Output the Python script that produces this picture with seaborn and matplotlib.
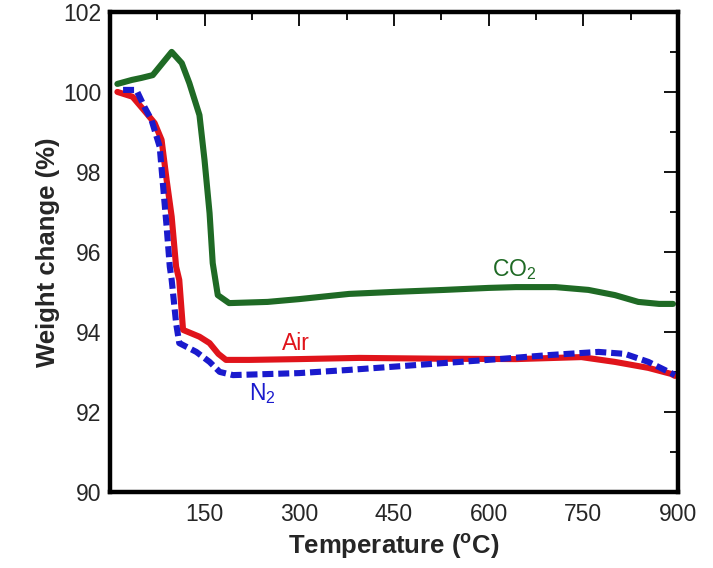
import matplotlib
matplotlib.use("Agg")
import matplotlib.pyplot as plt
import seaborn as sns
import pandas as pd
from matplotlib.ticker import MultipleLocator

co2_t = [12, 35, 50, 68, 98, 114, 126, 142, 150, 158, 163, 171, 189, 250, 300, 379, 450, 530, 600, 643, 706, 758, 800, 837, 870, 892]
co2_w = [100.2, 100.3, 100.35, 100.42, 101.0, 100.72, 100.22, 99.42, 98.3, 96.97, 95.72, 94.92, 94.72, 94.75, 94.82, 94.95, 95.0, 95.05, 95.1, 95.12, 95.12, 95.05, 94.92, 94.75, 94.7, 94.7]

air_t = [12, 36, 58, 71, 82, 90, 98, 105, 110, 116, 142, 158, 172, 184, 221, 300, 395, 520, 643, 747, 800, 853, 889, 895]
air_w = [100.0, 99.88, 99.47, 99.22, 98.8, 97.8, 96.88, 95.63, 95.3, 94.05, 93.88, 93.72, 93.45, 93.3, 93.3, 93.32, 93.35, 93.33, 93.32, 93.37, 93.25, 93.1, 92.95, 92.9]

n2_t = [21, 42, 55, 66, 79, 84, 90, 95, 98, 105, 110, 137, 158, 174, 195, 300, 379, 484, 616, 695, 774, 816, 853, 889, 895]
n2_w = [100.05, 100.05, 99.62, 99.3, 98.63, 97.72, 96.63, 95.63, 95.3, 94.22, 93.72, 93.5, 93.25, 93.0, 92.92, 92.97, 93.05, 93.17, 93.32, 93.42, 93.5, 93.45, 93.25, 92.97, 92.92]

labels = ["CO$_2$", "Air", "N$_2$"]
colors = ["#1f6a25", "#e0141b", "#1a1acd"]

sns.set_style("white")
plt.rcParams['font.family'] = ['Liberation Sans', 'DejaVu Sans']
plt.rcParams['mathtext.fontset'] = 'custom'
plt.rcParams['mathtext.rm'] = 'Liberation Sans'
plt.rcParams['mathtext.bf'] = 'Liberation Sans:bold'

fig = plt.figure(figsize=(7.13, 5.68), dpi=100)
ax = fig.add_axes([0.154, 0.134, 0.797, 0.845])

df_co2 = pd.DataFrame({"t": co2_t, "w": co2_w})
df_air = pd.DataFrame({"t": air_t, "w": air_w})
df_n2 = pd.DataFrame({"t": n2_t, "w": n2_w})

sns.lineplot(data=df_co2, x="t", y="w", ax=ax, color=colors[0], lw=4.4, sort=False)
sns.lineplot(data=df_air, x="t", y="w", ax=ax, color=colors[1], lw=4.4, sort=False)
sns.lineplot(data=df_n2, x="t", y="w", ax=ax, color=colors[2], lw=4.4, sort=False, linestyle=(0, (1.8, 0.8)))

ax.set_xlim(0, 900)
ax.set_ylim(90, 102)
ax.xaxis.set_major_locator(MultipleLocator(150))
ax.xaxis.set_minor_locator(MultipleLocator(75))
ax.yaxis.set_major_locator(MultipleLocator(2))
ax.yaxis.set_minor_locator(MultipleLocator(1))
ax.set_xticks([150, 300, 450, 600, 750, 900])
ax.tick_params(which='both', direction='in', top=True, right=True, labelsize=16.5, color='black')
ax.tick_params(axis='x', pad=8)
ax.tick_params(axis='y', pad=6)
ax.tick_params(which='major', length=10, width=1.3)
ax.tick_params(which='minor', length=6, width=1.3)
for s in ax.spines.values():
    s.set_linewidth(3.2)
    s.set_color('black')

ax.set_xlabel(r"Temperature ($\mathbf{^o}$C)", fontsize=18.5, fontweight='bold', labelpad=4)
ax.set_ylabel("Weight change (%)", fontsize=18.5, fontweight='bold', labelpad=2)

ax.text(640, 95.55, labels[0], color=colors[0], fontsize=16.5, ha='center', va='center')
ax.text(295, 93.72, labels[1], color=colors[1], fontsize=16.5, ha='center', va='center')
ax.text(242, 92.45, labels[2], color=colors[2], fontsize=16.5, ha='center', va='center')

fig.savefig("out.png", dpi=100)
